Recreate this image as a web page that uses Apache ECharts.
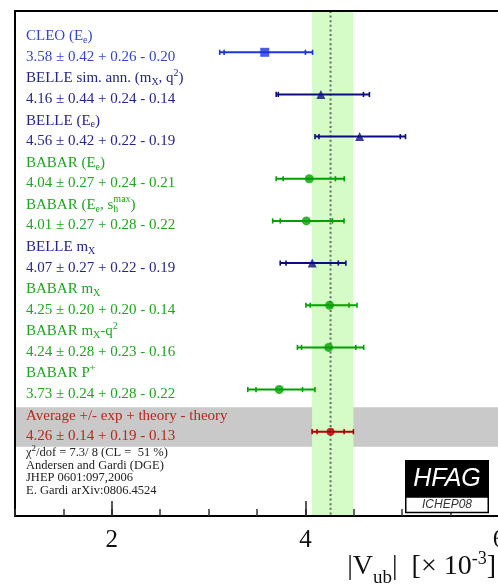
<!DOCTYPE html>
<html>
<head>
<meta charset="utf-8">
<script src="https://cdn.jsdelivr.net/npm/echarts@6/dist/echarts.min.js"></script>
<style>
  html, body { margin: 0; padding: 0; background: #fff; }
  #chart { width: 498px; height: 587px; }
</style>
</head>
<body>
<div id="chart"></div>
<script>
// |Vub| determinations from inclusive B -> Xu l nu (DGE), one row per measurement
const experiments = [
  'CLEO (E{sub|e})',
  'BELLE sim. ann. (m{sub|X}, q{sup|2})',
  'BELLE (E{sub|e})',
  'BABAR (E{sub|e})',
  'BABAR (E{sub|e}, s{stack|h}{sup|max})',
  'BELLE m{sub|X}',
  'BABAR m{sub|X}',
  'BABAR m{sub|X}-q{sup|2}',
  'BABAR P{sup|+}',
  'Average +/- exp + theory - theory'
];
const collaborations = ['CLEO', 'BELLE', 'BELLE', 'BABAR', 'BABAR', 'BELLE', 'BABAR', 'BABAR', 'BABAR', 'AVERAGE'];
const vubValues  = [3.58, 4.16, 4.56, 4.04, 4.01, 4.07, 4.25, 4.24, 3.73, 4.26];
const expErrors  = [0.42, 0.44, 0.42, 0.27, 0.27, 0.27, 0.20, 0.28, 0.24, 0.14];
const theoryUp   = [0.26, 0.24, 0.22, 0.24, 0.28, 0.22, 0.20, 0.23, 0.28, 0.19];
const theoryDown = [0.20, 0.14, 0.19, 0.21, 0.22, 0.19, 0.14, 0.16, 0.22, 0.13];
const tickValues = [2, 4, 6];
const footnotes = [
  '\u03c7{sup|2}/dof = 7.3/ 8 (CL =  51 %)',
  'Andersen and Gardi (DGE)',
  'JHEP 0601:097,2006',
  'E. Gardi arXiv:0806.4524'
];

const AVG = vubValues.length - 1;
const SERIF = '"Liberation Serif", "Times New Roman", serif';
const SANS = '"Liberation Sans", Arial, sans-serif';

const palette = {
  CLEO:    { bar: '#1a35dc', text: '#3346cf', symbol: 'rect',     size: 9 },
  BELLE:   { bar: '#0c0c80', text: '#25258e', symbol: 'triangle', size: 9 },
  BABAR:   { bar: '#00a000', text: '#1fa61f', symbol: 'circle',   size: 9 },
  AVERAGE: { bar: '#b00000', text: '#b5281c', symbol: 'circle',   size: 8 }
};

function quad(a, b) { return Math.sqrt(a * a + b * b); }

function richStyles(color, size) {
  const small = Math.round(size * 0.68);
  const base = { fontFamily: SERIF, fill: color };
  return {
    sub:   Object.assign({}, base, { fontSize: small, padding: [size * 0.55, 0, 0, 0] }),
    sup:   Object.assign({}, base, { fontSize: small, padding: [0, 0, size * 0.7, 0] }),
    stack: Object.assign({}, base, { fontSize: small, width: 0, padding: [size * 0.55, 0, 0, 0] })
  };
}

const rows = vubValues.map((v, i) => [v, i, expErrors[i], theoryUp[i], theoryDown[i]]);

const avgLow  = vubValues[AVG] - quad(expErrors[AVG], theoryDown[AVG]);
const avgHigh = vubValues[AVG] + quad(expErrors[AVG], theoryUp[AVG]);

const chart = echarts.init(document.getElementById('chart'), null, { renderer: 'canvas' });

const option = {
  animation: false,
  backgroundColor: '#fff',
  grid: {
    left: 15, top: 11, right: -1, bottom: 71,
    outerBoundsMode: 'none', containLabel: false,
    show: true, borderColor: '#000', borderWidth: 2,
    backgroundColor: 'transparent', z: 10
  },
  xAxis: [
    {
      type: 'value', min: 1, max: 6, interval: 0.5, z: 10,
      axisLine: { show: true, onZero: false, lineStyle: { color: '#000', width: 2 } },
      axisTick: { show: true, inside: true, length: 7, lineStyle: { color: '#333', width: 1.5 } },
      axisLabel: { show: false },
      splitLine: { show: false }
    },
    {
      type: 'value', min: 1, max: 6, interval: 0.5, position: 'bottom', z: 10,
      axisLine: { show: false, onZero: false },
      axisTick: { show: true, inside: true, length: 15, customValues: tickValues,
                  lineStyle: { color: '#222', width: 1.5 } },
      axisLabel: { show: true, customValues: tickValues, margin: 12,
                   fontFamily: SERIF, fontSize: 25, color: '#111' },
      splitLine: { show: false }
    }
  ],
  yAxis: {
    type: 'value', min: -0.98, max: 11, inverse: true, show: false
  },
  series: [
    // grey band behind the average row
    {
      type: 'custom', z: 1, silent: true,
      data: [[vubValues[AVG], AVG]],
      renderItem(params, api) {
        const cs = params.coordSys;
        const top = api.coord([1, AVG - 0.58])[1];
        const bottom = api.coord([1, AVG + 0.36])[1];
        return { type: 'rect', shape: { x: cs.x + 1, y: top, width: cs.width, height: bottom - top },
                 style: { fill: '#c9c9c9' } };
      }
    },
    // average band and central value line
    {
      type: 'custom', z: 2, silent: true,
      data: [[vubValues[AVG], AVG]],
      renderItem(params, api) {
        const cs = params.coordSys;
        const x0 = api.coord([avgLow, 0])[0];
        const x1 = api.coord([avgHigh, 0])[0];
        const xc = api.coord([vubValues[AVG], 0])[0];
        return {
          type: 'group',
          children: [
            { type: 'rect', shape: { x: x0, y: cs.y, width: x1 - x0, height: cs.height },
              style: { fill: '#d5fbc7' } },
            { type: 'line', shape: { x1: xc, y1: cs.y, x2: xc, y2: cs.y + cs.height },
              style: { stroke: '#6a6a6a', lineWidth: 2, lineDash: [2, 2.6] } }
          ]
        };
      }
    },
    // error bars: inner ticks = experimental error, outer ticks = total error
    {
      type: 'custom', z: 3, silent: true,
      encode: { x: 0, y: 1 },
      data: rows,
      renderItem(params, api) {
        const v = api.value(0), r = api.value(1), e = api.value(2), u = api.value(3), d = api.value(4);
        const color = palette[collaborations[params.dataIndex]].bar;
        const y = api.coord([v, r])[1];
        const px = (val) => api.coord([val, r])[0];
        const lo = px(v - quad(e, d)), hi = px(v + quad(e, u));
        const sLo = px(v - e), sHi = px(v + e);
        const h = 2.6;
        const tick = (x) => ({ type: 'line', shape: { x1: x, y1: y - h, x2: x, y2: y + h },
                               style: { stroke: color, lineWidth: 1.6 } });
        return {
          type: 'group',
          children: [
            { type: 'line', shape: { x1: lo, y1: y, x2: hi, y2: y }, style: { stroke: color, lineWidth: 2 } },
            tick(lo), tick(hi), tick(sLo), tick(sHi)
          ]
        };
      }
    },
    // central values
    {
      type: 'scatter', z: 4, silent: true,
      data: vubValues.map((v, i) => {
        const p = palette[collaborations[i]];
        return { value: [v, i], symbol: p.symbol, symbolSize: p.size, itemStyle: { color: p.bar } };
      })
    },
    // measurement names and quoted values
    {
      type: 'custom', z: 5, silent: true,
      encode: { x: 0, y: 1 },
      data: rows,
      renderItem(params, api) {
        const i = params.dataIndex;
        const cs = params.coordSys;
        const y = api.coord([1, api.value(1)])[1];
        const color = palette[collaborations[i]].text;
        const valueText = vubValues[i].toFixed(2) + ' \u00b1 ' + expErrors[i].toFixed(2) +
                          ' + ' + theoryUp[i].toFixed(2) + ' - ' + theoryDown[i].toFixed(2);
        return {
          type: 'group',
          children: [
            { type: 'text', style: { x: cs.x + 11, y: y - 16, text: experiments[i],
                fill: color, fontFamily: SERIF, fontSize: 15, align: 'left', verticalAlign: 'middle',
                rich: richStyles(color, 15) } },
            { type: 'text', style: { x: cs.x + 11, y: y + 4.5, text: valueText,
                fill: color, fontFamily: SERIF, fontSize: 15, align: 'left', verticalAlign: 'middle' } }
          ]
        };
      }
    }
  ],
  graphic: [
    ...footnotes.map((t, k) => ({
      type: 'text', z: 20,
      style: { x: 26, y: 453 + k * 12.6, text: t, fill: '#222', fontFamily: SERIF, fontSize: 12.5,
               align: 'left', verticalAlign: 'middle', rich: richStyles('#222', 12.5) }
    })),
    { type: 'rect', z: 20, shape: { x: 405, y: 460, width: 84, height: 37 }, style: { fill: '#000' } },
    { type: 'rect', z: 20, shape: { x: 405.75, y: 497, width: 82.5, height: 15.5 },
      style: { fill: '#fff', stroke: '#000', lineWidth: 1.5 } },
    { type: 'text', z: 21, style: { x: 447, y: 479, text: 'HFAG', fill: '#fff', fontFamily: SANS,
      fontSize: 25, fontStyle: 'italic', align: 'center', verticalAlign: 'middle' } },
    { type: 'text', z: 21, style: { x: 447, y: 505, text: 'ICHEP08', fill: '#333', fontFamily: SANS,
      fontSize: 12, fontStyle: 'italic', align: 'center', verticalAlign: 'middle' } },
    { type: 'text', z: 20, style: {
        x: 496, y: 567, text: '|V{ub|ub}|  [\u00d7 10{exp|-3}]', fill: '#111',
        fontFamily: SERIF, fontSize: 28, align: 'right', verticalAlign: 'middle',
        rich: {
          ub:  { fontFamily: SERIF, fontSize: 19, fill: '#111', padding: [22, 0, 0, 0] },
          exp: { fontFamily: SERIF, fontSize: 18, fill: '#111', padding: [0, 0, 16, 0] }
        } } }
  ]
};

chart.setOption(option);
</script>
</body>
</html>
